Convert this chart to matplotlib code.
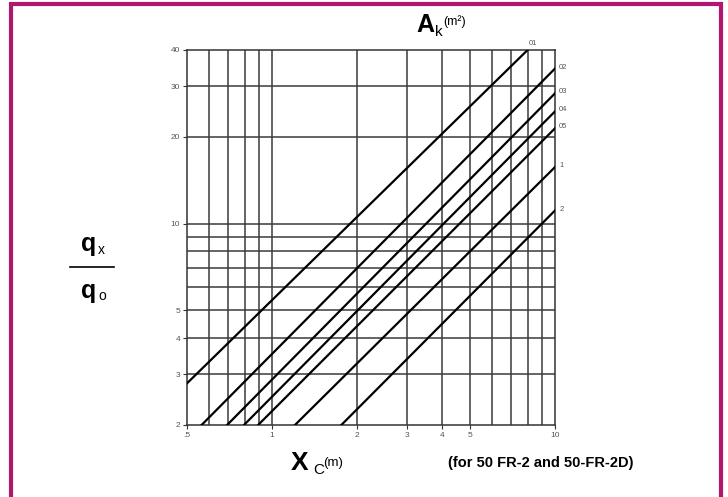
import matplotlib
matplotlib.use("Agg")
import matplotlib.pyplot as plt
from matplotlib.patches import Rectangle

# curves (start point, end point)
labels = ["01", "02", "03", "04", "05", "1", "2"]
x_start = [0.5, 0.563, 0.693, 0.795, 0.892, 1.204, 1.756]
y_start = [2.79, 2.0, 2.0, 2.0, 2.0, 2.0, 2.0]
x_end = [8.0, 10.0, 10.0, 10.0, 10.0, 10.0, 10.0]
y_end = [40.0, 34.5, 28.3, 24.5, 21.4, 15.7, 11.1]

x_grid = [0.6, 0.7, 0.8, 0.9, 1, 2, 3, 4, 5, 6, 7, 8, 9]
y_grid = [3, 4, 5, 6, 7, 8, 9, 10, 20, 30]
x_ticks = [0.5, 1, 2, 3, 4, 5, 10]
x_ticklabels = [".5", "1", "2", "3", "4", "5", "10"]
y_ticks = [2, 3, 4, 5, 10, 20, 30, 40]

plt.rcParams["font.family"] = ["Liberation Sans", "DejaVu Sans"]

fig = plt.figure(figsize=(7.28, 4.97), dpi=100)
ax = fig.add_axes([0.2569, 0.1449, 0.5055, 0.7545])
ax.set_xscale("log")
ax.set_yscale("log")
ax.set_xlim(0.5, 10)
ax.set_ylim(2, 40)

for g in x_grid:
    ax.axvline(g, color="#3a3a3a", lw=1.1, zorder=1)
for g in y_grid:
    ax.axhline(g, color="#3a3a3a", lw=1.1, zorder=1)

for i in range(len(labels)):
    ax.plot([x_start[i], x_end[i]], [y_start[i], y_end[i]], color="black", lw=1.6, zorder=3)
    if i == 0:
        ax.annotate(labels[i], (x_end[i], y_end[i]), xytext=(1, 2), textcoords="offset points",
                    fontsize=5.5, color="#555555", ha="left", va="bottom")
    else:
        ax.annotate(labels[i], (x_end[i], y_end[i]), xytext=(3, 1), textcoords="offset points",
                    fontsize=5.5, color="#555555", ha="left", va="center")

ax.xaxis.set_minor_locator(matplotlib.ticker.NullLocator())
ax.yaxis.set_minor_locator(matplotlib.ticker.NullLocator())
ax.set_xticks(x_ticks)
ax.set_xticklabels(x_ticklabels)
ax.set_yticks(y_ticks)
ax.set_yticklabels([str(v) for v in y_ticks])
ax.tick_params(labelsize=6, labelcolor="#555555", length=3, width=0.8, color="#333333", pad=2)
for s in ax.spines.values():
    s.set_color("#333333")
    s.set_linewidth(1.1)

# axis titles
fig.text(416 / 728, 1 - 25 / 497, "A", fontsize=18, fontweight="bold", ha="left", va="center")
fig.text(435 / 728, 1 - 32 / 497, "k", fontsize=11, ha="left", va="center")
fig.text(443 / 728, 1 - 22 / 497, "(m²)", fontsize=9, ha="left", va="center")

fig.text(291 / 728, 1 - 463 / 497, "X", fontsize=19, fontweight="bold", ha="left", va="center")
fig.text(313 / 728, 1 - 470 / 497, "C", fontsize=11, ha="left", va="center")
fig.text(323 / 728, 1 - 463 / 497, "(m)", fontsize=9.5, ha="left", va="center")

fig.text(81 / 728, 1 - 244 / 497, "q", fontsize=18, fontweight="bold", ha="left", va="center")
fig.text(98 / 728, 1 - 250 / 497, "x", fontsize=10, ha="left", va="center")
fig.text(81 / 728, 1 - 291 / 497, "q", fontsize=18, fontweight="bold", ha="left", va="center")
fig.text(98 / 728, 1 - 296 / 497, "o", fontsize=10, ha="left", va="center")
fig.add_artist(plt.Line2D([70 / 728, 114 / 728], [1 - 267 / 497, 1 - 267 / 497], color="black", lw=1.2))

fig.text(541 / 728, 1 - 463 / 497, "(for 50 FR-2 and 50-FR-2D)", fontsize=10.5, fontweight="bold",
         ha="center", va="center")

# magenta frame
fig.add_artist(Rectangle((11 / 728, -0.05), 710 / 728, 1.05 - 3.5 / 497, transform=fig.transFigure,
                         fill=False, edgecolor="#B0176E", lw=3))

fig.savefig("out.png", dpi=100)
